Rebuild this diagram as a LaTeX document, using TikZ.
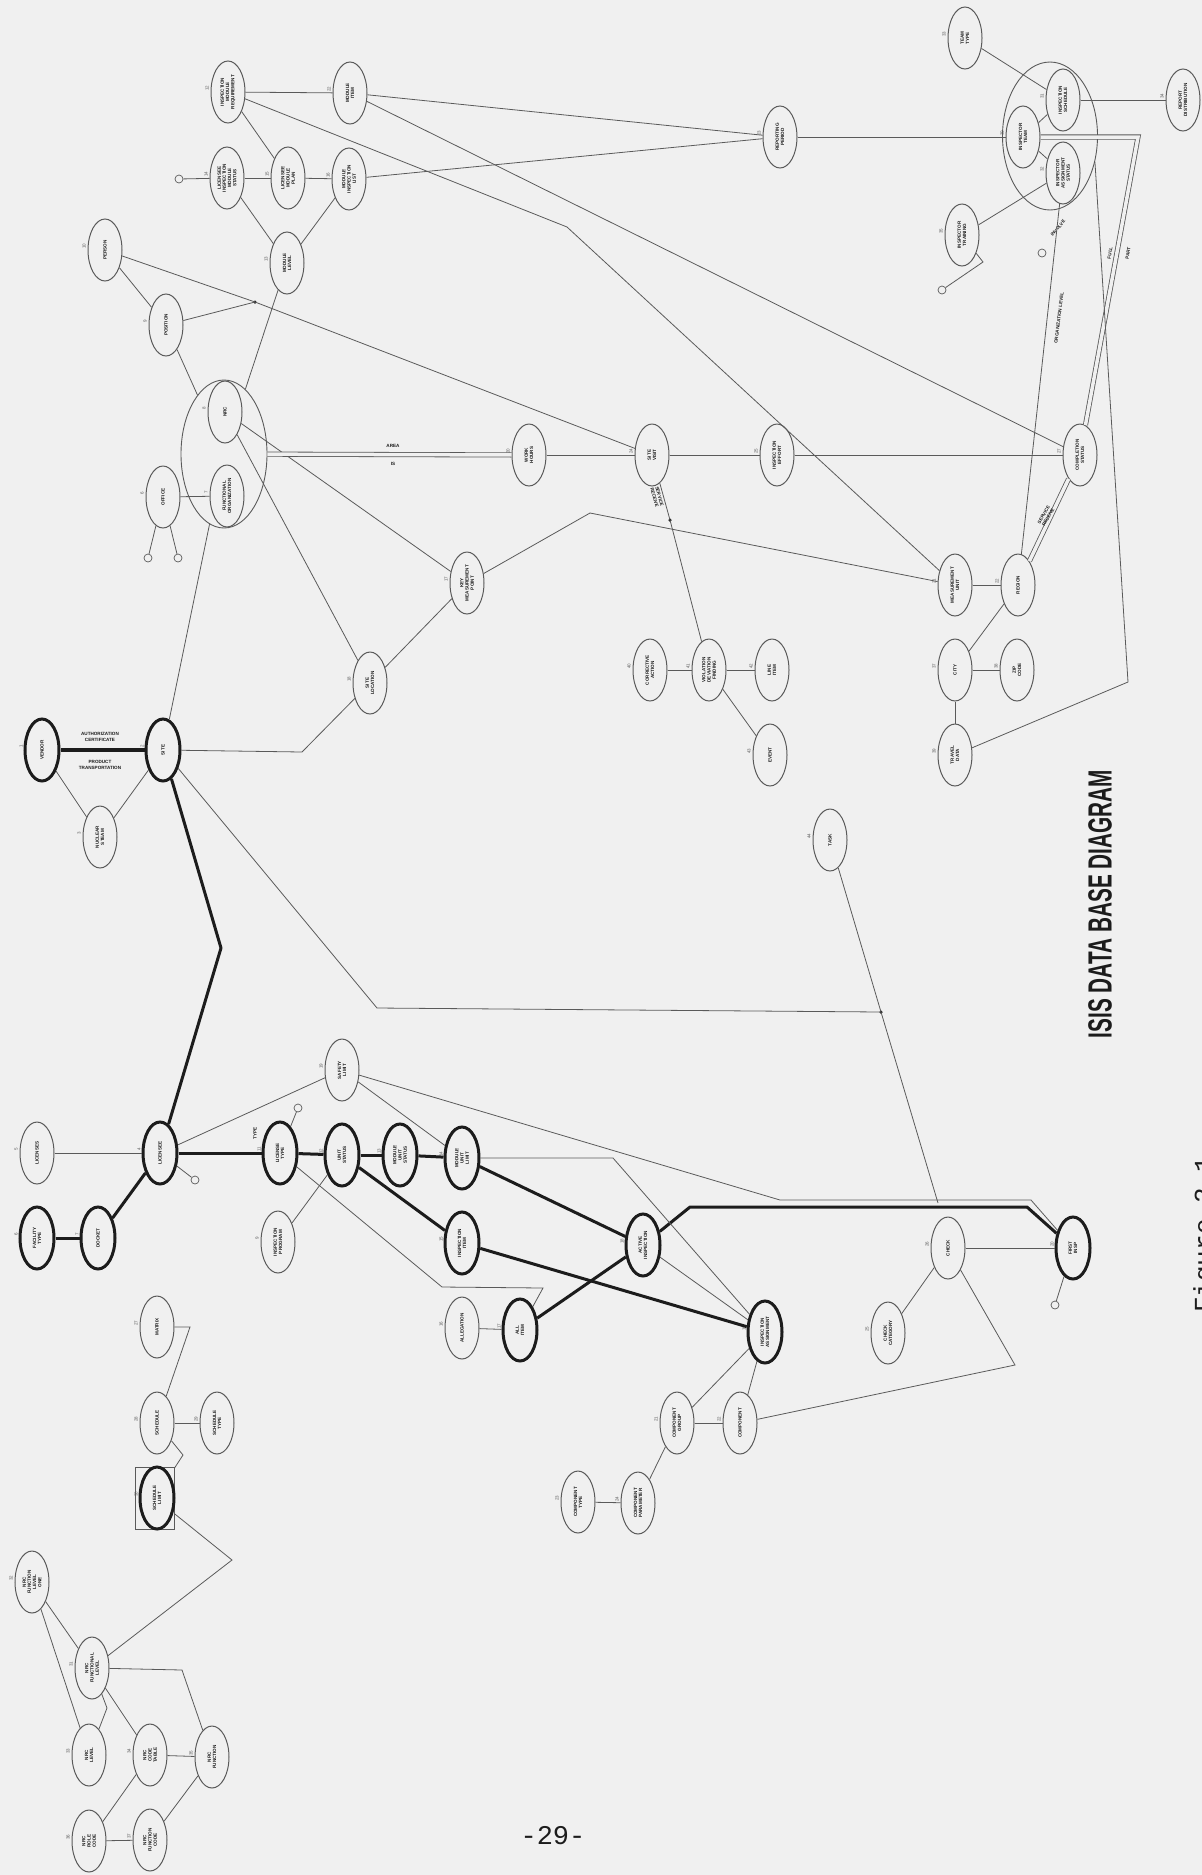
\documentclass[tikz,border=0pt]{standalone}
\usepackage{fontspec}
\setmainfont{Liberation Sans}
\newfontfamily\pgmono{Liberation Mono}
\usetikzlibrary{shapes.geometric,calc}
\definecolor{bgc}{RGB}{240,240,240}
\definecolor{linec}{RGB}{90,90,90}
\definecolor{inkc}{RGB}{28,28,28}
\newcommand\ENode[6]{%
  \node[#1] (#2) at (#3,#4) {#5};
  \node[numlab] at ({#3-21},{#4-4}) {#6};}
\begin{document}
\begin{tikzpicture}[x=1pt,y=-1pt,
  ell/.style={ellipse, draw=linec, line width=1pt, rotate=90, minimum width=62pt, minimum height=34pt, inner sep=0pt, align=center, font=\fontsize{4.6}{5.2}\selectfont\bfseries, text=inkc},
  thk/.style={ell, draw=inkc, line width=3pt},
  big/.style={ellipse, draw=linec, line width=0.9pt, inner sep=0pt},
  numlab/.style={font=\fontsize{4.5}{5}\selectfont, text=linec, rotate=90, inner sep=0pt},
  sm/.style={circle, draw=linec, line width=0.7pt, minimum size=8pt, inner sep=0pt},
  dotn/.style={circle, fill=inkc, minimum size=3.5pt, inner sep=0pt},
  ln/.style={draw=linec, line width=0.8pt},
  tk/.style={draw=inkc, line width=3pt, line join=round},
  dbl/.style={draw=linec, line width=0.8pt, double=bgc, double distance=3.5pt},
  lab/.style={font=\fontsize{4.6}{5.2}\selectfont\bfseries, text=inkc, inner sep=0.5pt, align=center},
]
\clip (0,0) rectangle (1202,1875);
\fill[bgc] (0,0) rectangle (1202,1875);

% ---------- top-left cluster ----------
\ENode{ell}{a1}{228}{92}{INSPECTION\\MODULE\\REQUIREMENT}{12}
\ENode{ell}{a2}{350}{93}{MODULE\\ITEM}{22}
\ENode{ell}{a3}{227}{178}{LICENSEE\\INSPECTION\\MODULE\\STATUS}{14}
\ENode{ell}{a4}{288}{178}{LICENSEE\\MODULE\\PLAN}{15}
\ENode{ell}{a5}{349}{179}{MODULE\\INSPECTION\\LIST}{16}
\ENode{ell}{a6}{287}{263}{MODULE\\LEVEL}{13}
\ENode{ell}{a7}{105}{250}{PERSON}{10}
\ENode{ell}{a8}{166}{325}{POSITION}{9}
\node[sm] (c1) at (179,179) {};
\node[dotn] (d1) at (255,302) {};

% ---------- big left group ----------
\node[big, minimum width=86pt, minimum height=148pt] (B) at (224,454) {};
\ENode{ell}{b1}{225}{412}{NRC}{8}
\ENode{ell}{b2}{227}{496}{FUNCTIONAL\\ORGANIZATION}{7}
\ENode{ell}{b3}{163}{497}{OFFICE}{6}
\node[sm] (c2) at (148,558) {};
\node[sm] (c3) at (178,558) {};

% ---------- horizontal row ----------
\ENode{ell}{h1}{529}{455}{WORK\\HOURS}{20}
\ENode{ell}{h2}{652}{455}{SITE\\VISIT}{24}
\ENode{ell}{h3}{777}{455}{INSPECTION\\EFFORT}{25}
\ENode{ell}{cc}{1080}{455}{COMPLETION\\STATUS}{27}
\ENode{ell}{r1}{780}{137}{REPORTING\\PERIOD}{23}

% ---------- right group ----------
\node[big, minimum width=95pt, minimum height=148pt] (R) at (1050,136) {};
\ENode{ell}{i1}{1063}{100}{INSPECTION\\SCHEDULE}{31}
\ENode{ell}{i2}{1023}{137}{INSPECTOR\\TEAM}{30}
\ENode{ell}{i3}{1063}{173}{INSPECTOR\\ASSIGNMENT\\STATUS}{32}
\ENode{ell}{t1}{965}{38}{TEAM\\TYPE}{33}
\ENode{ell}{t2}{1183}{100}{REPORT\\DISTRIBUTION}{34}
\ENode{ell}{t3}{962}{235}{INSPECTOR\\TRAINING}{35}
\node[sm] (c4) at (942,290) {};
\node[sm] (c5) at (1042,253) {};

% ---------- middle ----------
\ENode{ell}{g1}{467}{583}{KEY\\MEASUREMENT\\POINT}{17}
\ENode{ell}{sl}{370}{683}{SITE\\LOCATION}{18}
\ENode{ell}{mu}{955}{585}{MEASUREMENT\\UNIT}{21}
\ENode{ell}{rs}{1018}{585}{REGION}{22}
\ENode{ell}{u1}{955}{670}{CITY}{37}
\ENode{ell}{u2}{1017}{670}{ZIP\\CODE}{38}
\ENode{ell}{e1}{955}{755}{TRAVEL\\DATA}{39}
\ENode{ell}{m0}{650}{670}{CORRECTIVE\\ACTION}{40}
\ENode{ell}{mm}{709}{670}{VIOLATION\\DEVIATION\\FINDING}{41}
\ENode{ell}{m2}{772}{670}{LINE\\ITEM}{42}
\ENode{ell}{m3}{770}{755}{EVENT}{43}
\ENode{ell}{task}{830}{840}{TASK}{44}
\node[dotn] (d3) at (670,520) {};

% ---------- left middle ----------
\ENode{thk}{v}{42}{750}{VENDOR}{1}
\ENode{thk}{s}{163}{750}{SITE}{2}
\ENode{ell}{ns}{100}{837}{NUCLEAR\\STEAM}{3}

% ---------- lower ----------
\ENode{thk}{L}{160}{1153}{LICENSEE}{4}
\ENode{ell}{lic}{37}{1153}{LICENSES}{5}
\ENode{thk}{f1}{37}{1238}{FACILITY\\TYPE}{6}
\ENode{thk}{f2}{98}{1238}{DOCKET}{7}
\ENode{thk}{lt}{280}{1153}{LICENSE\\TYPE}{11}
\ENode{thk}{k0}{342}{1155}{UNIT\\STATUS}{12}
\ENode{thk}{k1}{400}{1155}{MODULE\\UNIT\\STATUS}{13}
\ENode{thk}{k2}{462}{1158}{MODULE\\UNIT\\LIMIT}{14}
\ENode{ell}{fl}{342}{1070}{SAFETY\\LIMIT}{19}
\ENode{ell}{ip}{278}{1242}{INSPECTION\\PROGRAM}{9}
\node[sm] (c6) at (195,1180) {};
\node[sm] (c7) at (298,1108) {};
\ENode{thk}{p1}{462}{1243}{INSPECTION\\ITEM}{15}
\ENode{ell}{p2}{462}{1328}{ALLEGATION}{16}
\ENode{thk}{p3}{520}{1330}{ALL\\ITEM}{17}
\ENode{thk}{p4}{643}{1245}{ACTIVE\\INSPECTION}{18}
\ENode{thk}{p5}{765}{1332}{INSPECTION\\ASSIGNMENT}{19}
\ENode{thk}{fi}{1073}{1248}{FIRST\\INSP}{20}
\ENode{ell}{ck}{948}{1248}{CHECK}{26}
\ENode{ell}{cs}{888}{1333}{CHECK\\CATEGORY}{25}
\node[sm] (c8) at (1055,1305) {};
\ENode{ell}{q1}{677}{1423}{COMPONENT\\GROUP}{21}
\ENode{ell}{q2}{740}{1423}{COMPONENT}{22}
\ENode{ell}{q3}{578}{1502}{COMPONENT\\TYPE}{23}
\ENode{ell}{q4}{638}{1503}{COMPONENT\\PARAMETER}{24}

% ---------- bottom left ----------
\ENode{ell}{x1}{157}{1327}{MATRIX}{27}
\ENode{ell}{x2}{157}{1423}{SCHEDULE}{28}
\ENode{ell}{x3}{217}{1423}{SCHEDULE\\TYPE}{29}
\node[draw=linec, line width=0.7pt, minimum width=39pt, minimum height=62pt, inner sep=0pt] (x4b) at (155,1498) {};
\ENode{thk}{x4}{157}{1498}{SCHEDULE\\LIMIT}{30}
\ENode{ell}{w}{92}{1668}{NRC\\FUNCTIONAL\\LEVEL}{31}
\ENode{ell}{w0}{32}{1582}{NRC\\FUNCTION\\LEVEL\\ONE}{32}
\ENode{ell}{w1}{89}{1755}{NRC\\LEVEL}{33}
\ENode{ell}{w2}{150}{1755}{NRC\\CODE\\TABLE}{34}
\ENode{ell}{w3}{212}{1757}{NRC\\FUNCTION}{35}
\ENode{ell}{w4}{89}{1841}{NRC\\ROLE\\CODE}{36}
\ENode{ell}{w5}{150}{1840}{NRC\\FUNCTION\\CODE}{37}

% ---------- coordinates for bends ----------
\coordinate (bk1) at (567,227);
\coordinate (bk4) at (983,262);
\coordinate (bk5) at (1138,137);
\coordinate (bk6) at (1128,682);
\coordinate (bk8) at (590,513);
\coordinate (bk9) at (302,752);
\coordinate (bk10) at (221,948);
\coordinate (bk11) at (377,1008);
\node[dotn] (d2) at (881,1012) {};
\coordinate (j1) at (938,1203);
\coordinate (bk12) at (690,1207);
\coordinate (bk13) at (1027,1207);
\coordinate (bk14) at (780,1200);
\coordinate (bk15) at (1031,1200);
\coordinate (bk16) at (613,1158);
\coordinate (bk17) at (442,1287);
\coordinate (bk18) at (543,1288);
\coordinate (bk19) at (1015,1365);
\coordinate (bk20) at (190,1327);
\coordinate (bk21) at (183,1455);
\coordinate (bk22) at (232,1560);
\coordinate (bk23) at (107,1708);
\coordinate (bk24) at (182,1670);

% ---------- connectors: top ----------
\draw[ln] (a1) -- (a2);
\draw[ln] (a1) -- (a4);
\draw[ln] (a1) -- (bk1) -- (mu);
\draw[ln] (a2) -- (r1);
\draw[ln] (a2) -- (cc);
\draw[ln] (a3) -- (a4);
\draw[ln] (a4) -- (a5);
\draw[ln] (c1) -- (a3);
\draw[ln] (a3) -- (a6);
\draw[ln] (a5) -- (a6);
\draw[ln] (a5) -- (r1);
\draw[ln] (a6) -- (B);
\draw[ln] (a7) -- (a8);
\draw[ln] (a7) -- (d1.center) -- (h2);
\draw[ln] (a8) -- (d1.center);
\draw[ln] (a8) -- (B);

% ---------- big left ----------
\draw[ln] (b3) -- (b2);
\draw[ln] (c2) -- (b3);
\draw[ln] (c3) -- (b3);
\draw[ln] (s) -- (B);
\draw[ln] (b1) -- (g1);
\draw[ln] (b1) -- (sl);
\draw[dbl] (B) -- (h1);
\node[lab] (lArea) at (393,446) {AREA};
\node[lab] (lIs) at (393,464) {IS};

% ---------- row ----------
\draw[ln] (h1) -- (h2);
\draw[ln] (h2) -- (h3);
\draw[ln] (h3) -- (cc);
\draw[ln] (h2) -- (d3.center) -- (mm);
\node[lab, rotate=-75] (lSR1) at (657,497) {SERVICE\\RECEIVE};
\draw[ln] (m0) -- (mm);
\draw[ln] (mm) -- (m2);
\draw[ln] (mm) -- (m3);

% ---------- right group ----------
\draw[ln] (r1) -- (i2);
\draw[ln] (i2) -- (i1);
\draw[ln] (i2) -- (i3);
\draw[ln] (t1) -- (i1);
\draw[ln] (i1) -- (t2);
\draw[ln] (t3) -- (i3);
\draw[ln] (c4) -- (bk4) -- (t3);
\draw[dbl] (i2) -- (bk5) -- (cc);
\node[lab, rotate=81] (lFull) at (1110,253) {FULL};
\node[lab, rotate=81] (lPart) at (1128,253) {PART};
\node[lab, rotate=50] (lInv) at (1058,228) {INVOLVE};
\draw[ln] (R.-30) -- (bk6) -- (e1);
\draw[ln] (i3) -- (rs);
\node[lab, rotate=83] (lOrg) at (1059,318) {ORGANIZATION LEVEL};

% ---------- middle ----------
\draw[ln] (mu) -- (rs);
\draw[ln] (rs) -- (u1);
\draw[ln] (u1) -- (u2);
\draw[ln] (u1) -- (e1);
\draw[dbl] (rs) -- (cc);
\node[lab, rotate=60] (lSR2) at (1046,516) {SERVICE\\RECEIVE};
\draw[ln] (g1) -- (bk8) -- (mu);
\draw[ln] (sl) -- (g1);
\draw[ln] (s) -- (bk9) -- (sl);

% ---------- left middle ----------
\draw[draw=inkc, line width=4.5pt] (v) -- (s);
\node[lab] (lAuth) at (100,737) {AUTHORIZATION\\CERTIFICATE};
\node[lab] (lProd) at (100,765) {PRODUCT\\TRANSPORTATION};
\draw[ln] (ns) -- (v);
\draw[ln] (ns) -- (s);
\draw[tk] (s) -- (bk10) -- (L);
\draw[ln] (s) -- (bk11) -- (d2.center);
\draw[ln] (task) -- (d2.center) -- (j1);

% ---------- lower ----------
\draw[ln] (lic) -- (L);
\draw[tk] (f1) -- (f2);
\draw[tk] (f2) -- (L);
\draw[ln] (c6) -- (L);
\draw[tk] (L) -- (lt);
\draw[tk] (lt) -- (k0);
\draw[tk] (k0) -- (k1);
\draw[tk] (k1) -- (k2);
\node[lab, rotate=90] (lType) at (255,1133) {TYPE};
\draw[ln] (c7) -- (lt);
\draw[ln] (L) -- (fl);
\draw[ln] (ip) -- (k0);
\draw[tk] (k0) -- (p1);
\draw[tk] (k2) -- (p4);
\draw[tk] (p1) -- (p5);
\draw[tk] (p3) -- (p4);
\draw[tk] (p4) -- (bk12) -- (bk13) -- (fi);
\draw[ln] (fl) -- (bk14) -- (bk15) -- (fi);
\draw[ln] (fl) -- (k2);
\draw[ln] (k2) -- (bk16) -- (p5);
\draw[ln] (p4) -- (p5);
\draw[ln] (lt) -- (bk17) -- (bk18) -- (p3);
\draw[ln] (p2) -- (p3);
\draw[ln] (ck) -- (fi);
\draw[ln] (cs) -- (ck);
\draw[ln] (c8) -- (fi);
\draw[ln] (ck) -- (bk19) -- (q2);
\draw[ln] (p5) -- (q1);
\draw[ln] (p5) -- (q2);
\draw[ln] (q1) -- (q2);
\draw[ln] (q4) -- (q1);
\draw[ln] (q3) -- (q4);

% ---------- bottom left ----------
\draw[ln] (x1) -- (bk20) -- (x2);
\draw[ln] (x2) -- (x3);
\draw[ln] (x2) -- (bk21) -- (x4b);
\draw[ln] (x4b) -- (bk22) -- (w);
\draw[ln] (w0) -- (w);
\draw[ln] (w0) -- (w1);
\draw[ln] (w) -- (bk23) -- (w1);
\draw[ln] (w) -- (w2);
\draw[ln] (w) -- (bk24) -- (w3);
\draw[ln] (w2) -- (w3);
\draw[ln] (w4) -- (w5);
\draw[ln] (w4) -- (w2);
\draw[ln] (w5) -- (w3);

% ---------- title and page texts ----------
\node[rotate=90, font=\fontsize{33.5}{34}\selectfont\bfseries, text=inkc, inner sep=0pt] (title) at (1100,904) {\scalebox{0.62}[1]{ISIS DATA BASE DIAGRAM}};
\node[font=\pgmono\fontsize{27}{28}\selectfont, text=inkc, inner sep=0pt] (pg) at (553,1836) {-29-};
\node[rotate=90, anchor=base west, font=\pgmono\fontsize{26}{27}\selectfont, text=inkc, inner sep=0pt] (fig) at (1212,1313) {Figure 2.1};
\end{tikzpicture}
\end{document}
